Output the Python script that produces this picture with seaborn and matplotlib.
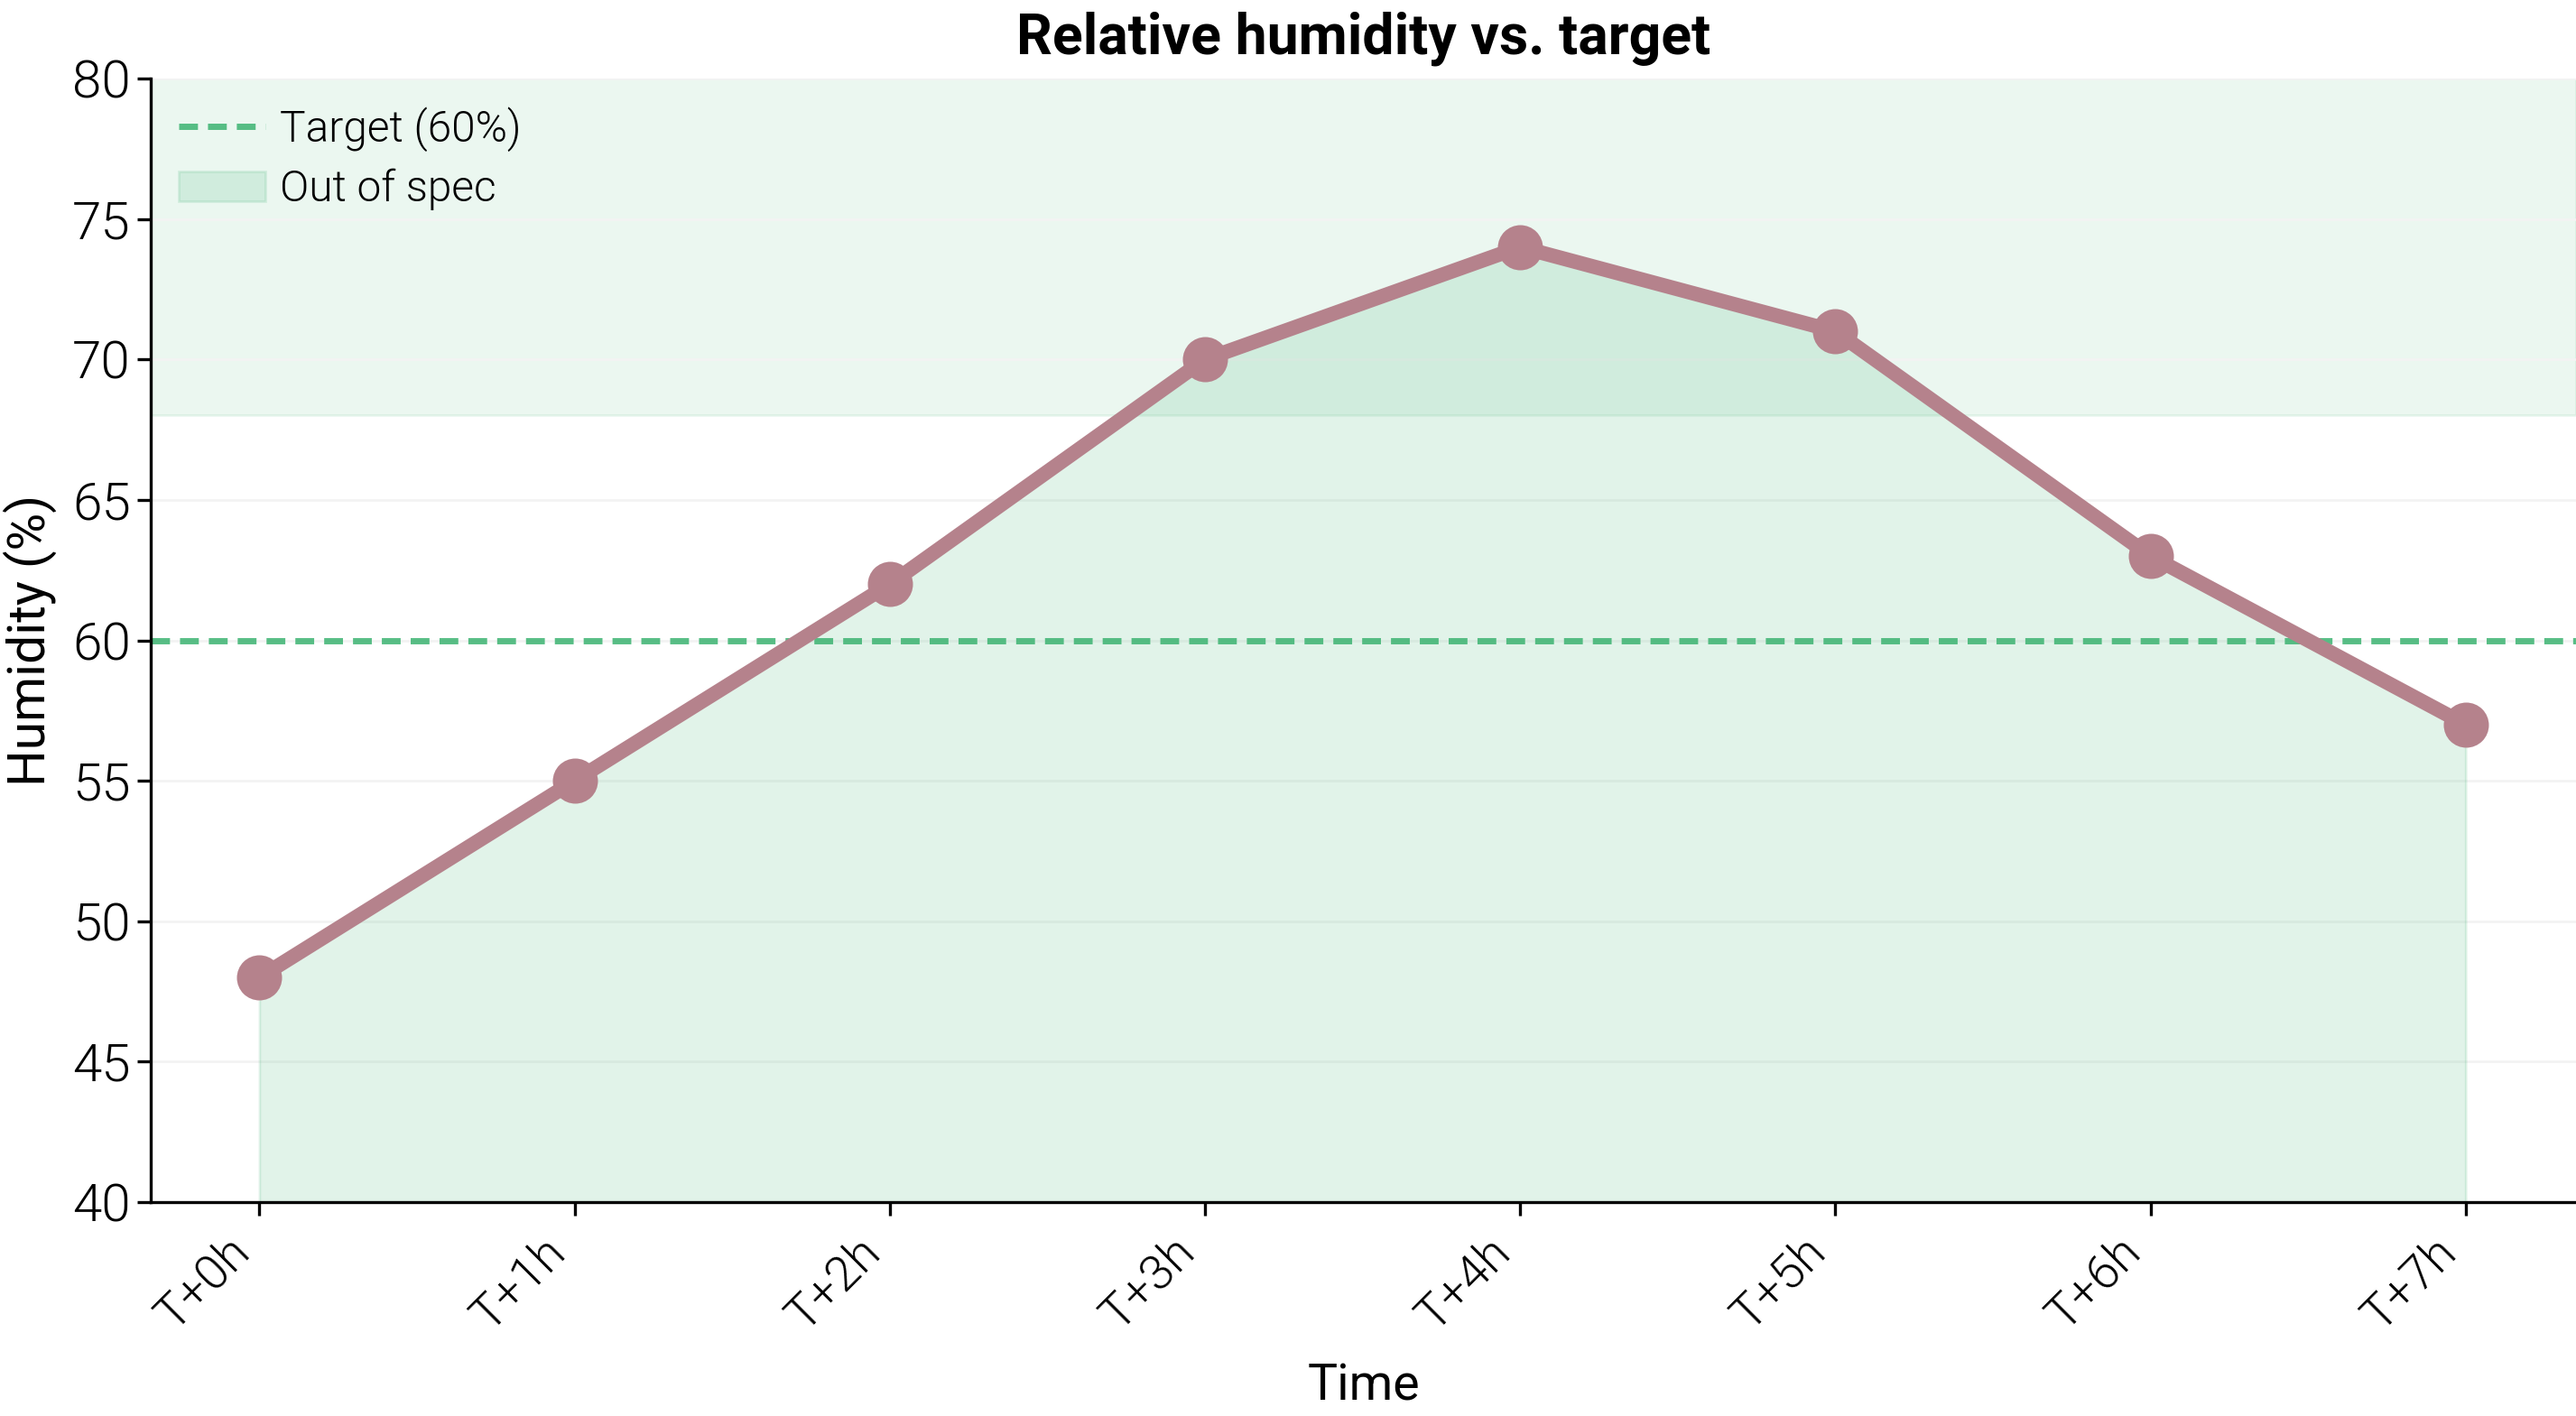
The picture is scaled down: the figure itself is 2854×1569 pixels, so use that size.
import numpy as np
import pandas as pd
import matplotlib
matplotlib.use("Agg")
import matplotlib.pyplot as plt
import seaborn as sns
from matplotlib.lines import Line2D
from matplotlib.patches import Patch

times = ["T+0h", "T+1h", "T+2h", "T+3h", "T+4h", "T+5h", "T+6h", "T+7h"]
humidity = [48, 55, 62, 70, 74, 71, 63, 57]
target = 60
spec_low, spec_high = 68, 80
yticks = [40, 45, 50, 55, 60, 65, 70, 75, 80]

sns.set_theme(style="white")
plt.rcParams['font.family'] = ['Roboto', 'DejaVu Sans']
plt.rcParams['text.color'] = 'black'
plt.rcParams['axes.labelcolor'] = 'black'
plt.rcParams['xtick.color'] = 'black'
plt.rcParams['ytick.color'] = 'black'

green = "#3cb371"
line_col = "#b5828c"

df = pd.DataFrame({"Time": times, "Humidity": humidity})

fig = plt.figure(figsize=(14.27, 7.845), dpi=200)
ax = fig.add_axes([0.0585, 0.151, 0.9415, 0.7936])

ax.axhspan(spec_low, spec_high, color=green, alpha=0.10, zorder=0)
xpos = np.arange(len(times))
ax.fill_between(xpos, humidity, yticks[0], color=green, alpha=0.15, zorder=1)
ax.axhline(target, color=green, alpha=0.85, lw=2.5, dashes=(3, 1.6), zorder=2)

sns.lineplot(data=df, x="Time", y="Humidity", ax=ax, sort=False, color=line_col,
             lw=5.8, marker="o", markersize=18, markeredgewidth=0, zorder=3)

ax.set_xlim(-0.345, 7.35)
ax.set_ylim(40, 80)
ax.set_yticks(yticks)
ax.set_xticks(xpos)
ax.set_xticklabels(times, rotation=45, ha="right", fontsize=19.5, fontweight=300)
for lab in ax.get_yticklabels():
    lab.set_fontsize(21)
    lab.set_fontweight(300)
ax.tick_params(axis="both", which="major", length=5.5, width=1.2, color="black",
               labelcolor="black", bottom=True, left=True, direction="out", pad=5)
ax.tick_params(axis="y", pad=2.5)
ax.yaxis.grid(True, color="#f3f3f3", lw=1.0)
ax.set_axisbelow(True)
sns.despine(ax=ax)
ax.spines["left"].set_color("black")
ax.spines["bottom"].set_color("black")
ax.spines["left"].set_linewidth(1.2)
ax.spines["bottom"].set_linewidth(1.2)

ax.set_xlabel("Time", fontsize=20, labelpad=9, color="black")
ax.set_ylabel("Humidity (%)", fontsize=20.5, labelpad=6, color="black")
ax.set_title("Relative humidity vs. target", fontsize=22.5, fontweight="bold",
             pad=10, color="black")

handles = [Line2D([0], [0], color=green, alpha=0.85, lw=2.5, dashes=(3, 1.6)),
           Patch(facecolor=green, alpha=0.15, edgecolor=green)]
leg = ax.legend(handles, ["Target (60%)", "Out of spec"], loc="upper left", frameon=False,
                handlelength=2.0, handletextpad=0.35, borderaxespad=0.25,
                labelspacing=0.4, labelcolor="black",
                prop={"size": 17.2, "weight": 300})

fig.savefig("out.png", dpi=200)
